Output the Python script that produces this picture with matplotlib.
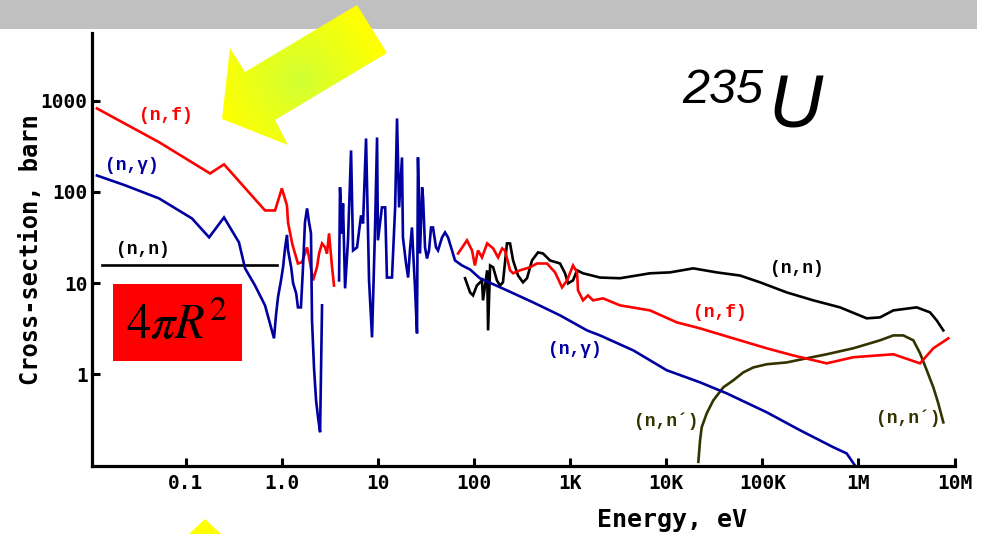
import numpy as np
import matplotlib
matplotlib.use("Agg")
import matplotlib.pyplot as plt
from matplotlib.patches import Polygon, Rectangle

# U-235 neutron cross-sections: (energy eV, barn)
nan = float("nan")
fission = [(0.0119, 820), (0.0527, 350), (0.179, 159), (0.250, 200), (0.668, 62.5),
           (0.850, 62.5), (1.00, 109), (1.13, 71), (1.16, 46), (1.28, 27.2),
           (1.37, 21.1), (1.47, 16.4), (1.62, 16.9), (1.83, 24.6), (1.92, 19.1),
           (2.11, 10.7), (2.32, 14.9), (2.44, 21.1), (2.62, 27.2), (2.82, 24.6),
           (2.95, 21.1), (3.10, 35), (3.33, 14.9), (3.49, 9.4), (nan, nan),
           (68.2, 21.1), (84.5, 29.4), (95.3, 22.8), (102, 15.6), (110, 22.8),
           (121, 19.1), (137, 27.2), (158, 24.0), (178, 19.1), (196, 24.0),
           (210, 22.8), (237, 13.8), (255, 12.8), (301, 13.8), (383, 14.9),
           (452, 16.4), (575, 16.4), (697, 13.1), (824, 8.97), (929, 10.7),
           (1072, 15.6), (1180, 13.1), (1208, 8.32), (1362, 6.47), (1535, 7.33),
           (1731, 6.47), (2200, 6.80), (3306, 5.70), (6780, 5.02), (12900, 3.71),
           (22500, 3.19), (49900, 2.48), (111000, 1.93), (210000, 1.61),
           (468000, 1.32), (885000, 1.54), (2.31e6, 1.66), (4.38e6, 1.32),
           (6.02e6, 1.93), (8.62e6, 2.48)]

capture = [(0.0119, 151), (0.0233, 118), (0.0527, 84.7), (0.116, 51.1), (0.175, 31.7),
           (0.250, 52.4), (0.358, 27.9), (0.414, 14.5), (0.526, 9.4), (0.668, 5.70),
           (0.829, 2.48), (0.87, 4.5), (0.913, 7.04), (0.981, 10.8), (1.03, 15.0),
           (1.08, 24.3), (1.13, 33.7), (1.16, 22.8), (1.25, 14.9), (1.31, 9.93),
           (1.41, 7.71), (1.47, 5.42), (1.58, 5.42), (1.66, 14.9), (1.74, 46.2),
           (1.83, 65.8), (1.92, 46.2), (2.01, 35), (2.06, 3.90), (2.16, 1.19),
           (2.27, 0.519), (2.38, 0.338), (2.50, 0.232), (2.56, 1.19), (2.62, 5.70),
           (nan, nan),
           (3.94, 10.7), (4.03, 112), (4.23, 35), (4.33, 74.6), (4.55, 8.75),
           (4.88, 29.4), (5.25, 284), (5.51, 22.8), (6.06, 24.6), (6.67, 55.2),
           (7.00, 45.1), (7.52, 384), (8.08, 10.7), (8.68, 2.54), (9.33, 40.7),
           (9.79, 394), (10.0, 29.4), (11.0, 67.5), (11.9, 67.5), (12.4, 11.5),
           (14.0, 11.5), (15.1, 67.5), (15.8, 637), (16.6, 67.5), (17.8, 238),
           (18.2, 31.7), (19.6, 16.4), (20.6, 11.5), (21.6, 24.0), (22.6, 40.7),
           (23.2, 22.8), (24.3, 8.97), (25.5, 2.81), (26.1, 238), (27.4, 21.1),
           (28.8, 112), (29.5, 84.7), (30.9, 24.6), (32.4, 18.6), (34.0, 22.8),
           (35.7, 40.7), (37.4, 40.7), (40.2, 24.6), (42.2, 22.8), (46.5, 31.7),
           (49.9, 35.9), (53.6, 31.7), (59.0, 22.8), (63.4, 17.7), (75.0, 15.6),
           (90.9, 14.1), (115, 11.3), (220, 8.32), (411, 6.15), (785, 4.43),
           (1499, 3.03), (2047, 2.67), (4546, 1.83), (10100, 1.11), (22500, 0.817),
           (42600, 0.619), (111000, 0.384), (247000, 0.244), (548000, 0.159),
           (755000, 0.136), (922000, 0.1), (960000, 0.09)]

elastic_low = [(0.0135, 15.6), (0.89, 15.6)]

elastic = [(80.6, 11.3), (90.9, 7.91), (97.6, 7.33), (107, 9.4), (121, 10.7),
           (124, 6.47), (137, 13.8), (140, 3.03), (147, 15.6), (158, 14.9),
           (173, 10.7), (186, 9.4), (200, 10.2), (220, 27.2), (237, 27.2),
           (255, 17.7), (287, 12.1), (323, 10.2), (356, 11.3), (401, 17.7),
           (463, 21.7), (522, 21.1), (618, 17.7), (785, 16.4), (885, 12.8),
           (951, 9.93), (1072, 10.7), (1180, 13.8), (1362, 12.8), (2047, 11.5),
           (3306, 11.3), (6780, 12.8), (10950, 13.1), (19100, 14.5), (33500, 13.1),
           (58600, 12.1), (94600, 10.2), (179000, 7.91), (339000, 6.47),
           (643000, 5.42), (1.22e6, 4.11), (1.68e6, 4.21), (2.31e6, 5.02),
           (4.04e6, 5.42), (5.56e6, 4.78), (6.53e6, 3.90), (7.65e6, 3.03)]

inelastic = [(21600, 0.11), (22500, 0.189), (23400, 0.263), (26400, 0.374),
             (30900, 0.519), (39300, 0.721), (49900, 0.86), (63400, 1.05),
             (80600, 1.19), (111000, 1.29), (179000, 1.35), (290000, 1.50),
             (468000, 1.66), (885000, 1.93), (1.68e6, 2.36), (2.31e6, 2.67),
             (2.93e6, 2.67), (3.73e6, 2.36), (4.38e6, 1.70), (5.14e6, 1.11),
             (6.02e6, 0.721), (6.78e6, 0.481), (7.65e6, 0.298)]

xticks = [0.1, 1, 10, 100, 1e3, 1e4, 1e5, 1e6, 1e7]
xticklabels = ["0.1", "1.0", "10", "100", "1K", "10K", "100K", "1M", "10M"]
yticks = [1, 10, 100, 1000]
yticklabels = ["1", "10", "100", "1000"]

# curve labels: (text, energy, barn, colour)
labels = [("(n,f)", 0.0624, 680, "#ff0000"),
          ("(n,γ)", 0.0276, 192, "#0000a0"),
          ("(n,n)", 0.036, 23.1, "black"),
          ("(n,n)", 230000, 14.3, "black"),
          ("(n,f)", 36300, 4.82, "#ff0000"),
          ("(n,γ)", 1124, 1.85, "#0000a0"),
          ("(n,n´)", 9950, 0.308, "#333300"),
          ("(n,n´)", 3.28e6, 0.332, "#333300")]

W, H = 983, 534
fig = plt.figure(figsize=(W / 100, H / 100), dpi=100)
ax = fig.add_axes([91.7 / W, 1 - 466 / H, (954.5 - 91.7) / W, (466 - 33) / H])

lw = 1.9
for data, col in [(elastic_low, "black"), (elastic, "black"), (inelastic, "#333300"),
                  (fission, "#ff0000"), (capture, "#0000a0")]:
    e, s = zip(*data)
    ax.plot(e, s, color=col, lw=lw, solid_joinstyle="miter")

ax.set_xscale("log")
ax.set_yscale("log")
ax.set_xlim(0.0105, 1.0e7)
ax.set_ylim(0.099, 5500)
ax.set_xticks(xticks)
ax.set_xticklabels(xticklabels)
ax.set_yticks(yticks)
ax.set_yticklabels(yticklabels)
ax.minorticks_off()
for sp in ["top", "right"]:
    ax.spines[sp].set_visible(False)
for sp in ["left", "bottom"]:
    ax.spines[sp].set_linewidth(2.3)
ax.tick_params(direction="in", length=6, width=2.2, labelsize=14)
ax.tick_params(axis="x", pad=6)
ax.tick_params(axis="y", pad=3)
for t in ax.get_xticklabels() + ax.get_yticklabels():
    t.set_fontfamily("DejaVu Sans Mono")
    t.set_fontweight("bold")

for txt, e, s, col in labels:
    ax.text(e, s, txt, color=col, ha="center", va="center",
            family="Liberation Mono", fontweight="bold", fontsize=13)

fig.text(672 / W, 1 - 520 / H, "Energy, eV", ha="center", va="center",
         family="DejaVu Sans Mono", fontweight="bold", fontsize=18)
fig.text(31 / W, 1 - 250 / H, "Cross-section, barn", ha="center", va="center",
         rotation=90, family="DejaVu Sans Mono", fontweight="bold", fontsize=17)

# overlay in pixel units for the decorations
ov = fig.add_axes([0, 0, 1, 1], zorder=5)
ov.set_xlim(0, W)
ov.set_ylim(H, 0)
ov.axis("off")
ov.patch.set_alpha(0)

ov.add_patch(Rectangle((0, 0), 977, 29, color="#c0c0c0", lw=0, zorder=1))

# big yellow arrow with a soft green-yellow centre
arrow = Polygon([(357, 5), (387, 53), (275, 120), (288, 145), (222, 119),
                 (230, 48), (245, 72)], closed=True, fc="none", ec="none")
ov.add_patch(arrow)
gx, gy = np.meshgrid(np.linspace(215, 395, 180), np.linspace(0, 150, 150))
t = np.clip(1 - np.hypot(gx - 300, gy - 80) / 85, 0, 1)
img = np.dstack([1 - 0.18 * t, np.ones_like(t), 0.2 * t])
im = ov.imshow(img, extent=[215, 395, 150, 0], aspect="auto", zorder=2)
im.set_clip_path(arrow)

ov.add_patch(Polygon([(205, 519), (189, 534), (221, 534)], closed=True,
                     fc="#ffff00", ec="none", zorder=2))

# 4 pi R^2 box
ov.add_patch(Rectangle((113, 284), 129, 77, color="#ff0000", lw=0, zorder=2))
plt.rcParams["mathtext.fontset"] = "stix"
ov.text(177, 325, r"$4\pi R^2$", ha="center", va="center", fontsize=35,
        color="black", zorder=3)

ov.text(682, 103, "235", ha="left", va="baseline", family="Liberation Sans",
        style="italic", fontsize=35, zorder=3)
ov.text(768, 127, "U", ha="left", va="baseline", family="Liberation Sans",
        style="italic", fontsize=54, zorder=3)

fig.savefig("out.png", dpi=100)
